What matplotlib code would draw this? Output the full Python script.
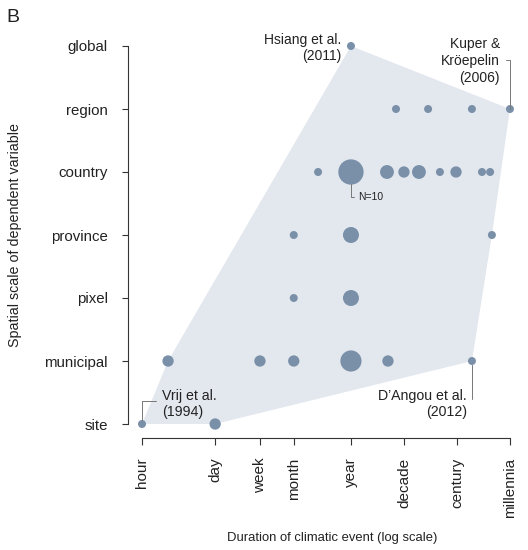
import numpy as np
import matplotlib
matplotlib.use('Agg')
import matplotlib.pyplot as plt

plt.rcParams['font.family'] = ['Liberation Sans', 'DejaVu Sans']

# spatial scale categories (bottom to top)
scales = ['site', 'municipal', 'pixel', 'province', 'country', 'region', 'global']

# duration tick positions in hours
dur_labels = ['hour', 'day', 'week', 'month', 'year', 'decade', 'century', 'millennia']
dur_hours = [1, 24, 168, 730, 8760, 87600, 876000, 8760000]

# studies: spatial scale, duration (hours), number of studies
pt_scale = ['site', 'site',
            'municipal', 'municipal', 'municipal', 'municipal', 'municipal', 'municipal',
            'pixel', 'pixel',
            'province', 'province', 'province',
            'country', 'country', 'country', 'country', 'country', 'country', 'country', 'country', 'country',
            'region', 'region', 'region', 'region',
            'global']
pt_hours = [1, 24,
            3.1, 168, 730, 8760, 43700, 1.68e6,
            730, 8760,
            730, 8760, 4.0e6,
            2100, 8760, 41900, 87600, 168000, 418000, 841000, 2.6e6, 3.7e6,
            62000, 250000, 1.68e6, 8760000,
            8760]
pt_n = [1, 2,
        2, 2, 2, 7, 2, 1,
        1, 4,
        1, 4, 1,
        1, 10, 3, 2, 3, 1, 2, 1, 1,
        1, 1, 1, 1,
        1]

dot_color = '#7a90a9'
hull_color = '#e3e7ee'
txt_color = '#222222'

W, H = 528, 550
L, R, T, B = 128, 520, 30, 438
fig = plt.figure(figsize=(W / 100, H / 100), dpi=100)
ax = fig.add_axes([L / W, (H - B) / H, (R - L) / W, (B - T) / H])

yi = np.array([scales.index(s) for s in pt_scale], dtype=float)
xh = np.array(pt_hours, dtype=float)
nn = np.array(pt_n, dtype=float)


# convex hull (monotone chain) in log-x / index-y space
def hull(pts):
  pts = sorted(set(pts))
  def cross(o, a, b):
    return (a[0] - o[0]) * (b[1] - o[1]) - (a[1] - o[1]) * (b[0] - o[0])
  lower, upper = [], []
  for p in pts:
    while len(lower) >= 2 and cross(lower[-2], lower[-1], p) <= 0:
      lower.pop()
    lower.append(p)
  for p in reversed(pts):
    while len(upper) >= 2 and cross(upper[-2], upper[-1], p) <= 0:
      upper.pop()
    upper.append(p)
  return lower[:-1] + upper[:-1]

# scale so the hull is taken in display-proportional space
hp = hull(list(zip(np.log10(xh) * 53.0, yi * 63.0)))
hx = [10 ** (p[0] / 53.0) for p in hp]
hy = [p[1] / 63.0 for p in hp]
ax.fill(hx, hy, color=hull_color, lw=0, zorder=1)

# marker area proportional to N
ax.scatter(xh, yi, s=33.2 * nn, color=dot_color, lw=0, zorder=3)

ax.set_xscale('log')
ax.set_xlim(10 ** ((L - 142) / 53), 10 ** ((R - 142) / 53))
ax.set_ylim((424 - B) / 63, 6 + (46 - T) / 63)

ax.set_xticks(dur_hours)
ax.set_xticklabels(dur_labels, rotation=90, fontsize=11, color=txt_color)
ax.xaxis.set_minor_locator(matplotlib.ticker.NullLocator())
ax.set_yticks(range(len(scales)))
ax.set_yticklabels(scales, fontsize=10.8, color=txt_color)
ax.tick_params(axis='x', length=5, width=0.8, color='#333333', pad=9)
ax.tick_params(axis='y', length=4.5, width=0.8, color='#333333', pad=10)

for s in ['top', 'right']:
  ax.spines[s].set_visible(False)
ax.spines['left'].set_bounds(0, len(scales) - 1)
ax.spines['bottom'].set_bounds(dur_hours[0], dur_hours[-1])
for s in ['left', 'bottom']:
  ax.spines[s].set_linewidth(0.8)
  ax.spines[s].set_color('#333333')
ax.patch.set_visible(False)

ax.set_xlabel('Duration of climatic event (log scale)', fontsize=9.4, color=txt_color, va='center')
ax.xaxis.set_label_coords((332 - L) / (R - L), (B - 538) / (B - T))
ax.set_ylabel('Spatial scale of dependent variable', fontsize=10.3, color=txt_color, va='center')
ax.yaxis.set_label_coords((15 - L) / (R - L), (B - 235) / (B - T))

lead = dict(arrowstyle='-', color='#777777', lw=0.7, shrinkA=2, shrinkB=0)

def px(v):
  return v * 0.72

ax.annotate('Hsiang et al.\n(2011)', xy=(8760, scales.index('global')),
            xytext=(px(-10), px(-2)), textcoords='offset points',
            ha='right', va='center', fontsize=10, color=txt_color,
            linespacing=1.25)

ax.annotate('Kuper &\nKröepelin\n(2006)', xy=(8760000, scales.index('region')),
            xytext=(px(-10), px(48)), textcoords='offset points',
            ha='right', va='center', fontsize=10, color=txt_color, linespacing=1.25,
            arrowprops=dict(lead, relpos=(1, 0.52),
                            connectionstyle='angle,angleA=0,angleB=90,rad=0'))

ax.annotate('N=10', xy=(8760, scales.index('country')),
            xytext=(px(7), px(-25)), textcoords='offset points',
            ha='left', va='center', fontsize=7.5, color=txt_color,
            arrowprops=dict(lead, relpos=(0, 0.5), shrinkA=1, shrinkB=px(12.5),
                            connectionstyle='angle,angleA=0,angleB=90,rad=0'))

ax.annotate('Vrij et al.\n(1994)', xy=(1, scales.index('site')),
            xytext=(px(20), px(20)), textcoords='offset points',
            ha='left', va='center', fontsize=10.2, color=txt_color, linespacing=1.25,
            arrowprops=dict(lead, relpos=(0, 0.6), shrinkB=px(4),
                            connectionstyle='angle,angleA=0,angleB=90,rad=0'))

ax.annotate('D\u2019Angou et al.\n(2012)', xy=(1.68e6, scales.index('municipal')),
            xytext=(px(-5), px(-43)), textcoords='offset points',
            ha='right', va='center', fontsize=10.2, color=txt_color, linespacing=1.25,
            arrowprops=dict(lead, relpos=(1, 0.6), shrinkB=px(4),
                            connectionstyle='angle,angleA=0,angleB=90,rad=0'))

fig.text(6 / W, 1 - 18 / H, 'B', fontsize=14, color=txt_color, va='center', ha='left')

fig.savefig('out.png', dpi=100)
